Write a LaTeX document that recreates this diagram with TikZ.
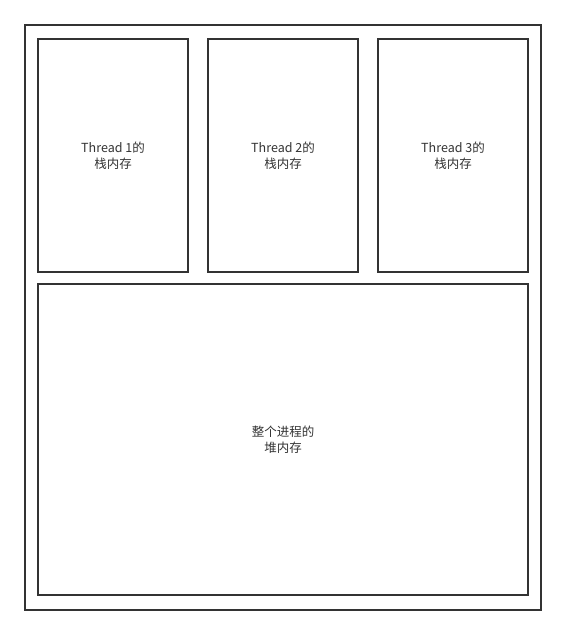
\documentclass[tikz,border=0pt]{standalone}
\usepackage{fontspec}
\setmainfont{Noto Sans CJK SC}
\usetikzlibrary{positioning}

\definecolor{boxline}{HTML}{333333}

\begin{document}
\begin{tikzpicture}[x=1pt, y=-1pt,
    box/.style={draw=boxline, line width=1.5pt},
    boxtext/.style={align=center, font=\fontsize{12.5}{16}\selectfont, text=boxline}]
    \useasboundingbox (0,0) rectangle (566,636);

    % Draw the outer rectangle (the whole process)
    \draw[boxline, line width=1.8pt] (25,25) rectangle (541,610);

    % Draw the three thread stacks
    \draw[box] (38,39) rectangle (188,272);
    \node[boxtext] (T1) at (113,156) {Thread 1的\\栈内存};

    \draw[box] (208,39) rectangle (358,272);
    \node[boxtext] (T2) at (283,156) {Thread 2的\\栈内存};

    \draw[box] (378,39) rectangle (528,272);
    \node[boxtext] (T3) at (453,156) {Thread 3的\\栈内存};

    % Draw the shared heap
    \draw[box] (38,284) rectangle (528,595);
    \node[boxtext] (Heap) at (283,440) {整个进程的\\堆内存};

\end{tikzpicture}
\end{document}
